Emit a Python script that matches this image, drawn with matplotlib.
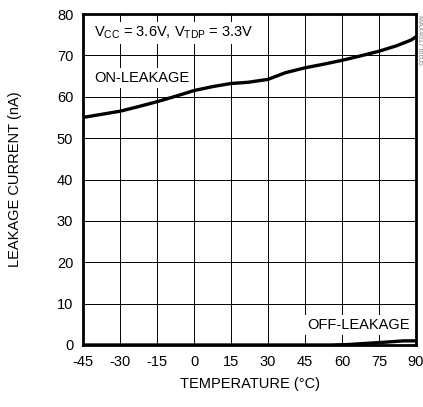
import matplotlib
matplotlib.use("Agg")
import matplotlib.pyplot as plt

plt.rcParams["font.family"] = ["Liberation Sans", "DejaVu Sans"]
plt.rcParams["axes.unicode_minus"] = False

temp_on = [-45, -37, -30, -22, -15, -7, 0, 8, 15, 22, 30, 37, 45, 52, 60, 67, 75, 82, 88, 90]
on_leak = [55.0, 55.8, 56.5, 57.7, 58.8, 60.2, 61.5, 62.5, 63.2, 63.5, 64.2, 65.8, 67.0, 67.8, 68.8, 69.8, 71.0, 72.3, 73.7, 74.5]

temp_off = [-45, 0, 55, 62, 70, 78, 85, 90]
off_leak = [0.0, 0.0, 0.0, 0.1, 0.4, 0.7, 1.0, 1.0]

x_ticks = [-45, -30, -15, 0, 15, 30, 45, 60, 75, 90]
y_ticks = [0, 10, 20, 30, 40, 50, 60, 70, 80]

fig = plt.figure(figsize=(4.23, 4.07), dpi=100)
ax = fig.add_axes([83 / 423, 62 / 407, 333 / 423, 331 / 407])

ax.plot(temp_on, on_leak, color="black", lw=2.4, solid_capstyle="butt", zorder=3)
ax.plot(temp_off, off_leak, color="black", lw=2.4, solid_capstyle="butt", zorder=3)

ax.set_xlim(-45, 90)
ax.set_ylim(0, 80)
ax.set_xticks(x_ticks)
ax.set_yticks(y_ticks)
ax.grid(True, color="black", lw=0.7)
ax.tick_params(length=0, labelsize=10.5, pad=7)
for s in ax.spines.values():
    s.set_linewidth(2)
    s.set_zorder(4)

ax.set_xlabel("TEMPERATURE (°C)", fontsize=10.5, labelpad=6)
ax.set_ylabel("LEAKAGE CURRENT (nA)", fontsize=10.5, labelpad=25)

ax.text(-40.5, 75.4, r"V$_{\mathregular{CC}}$ = 3.6V, V$_{\mathregular{TDP}}$ = 3.3V", fontsize=10.5,
        va="center", ha="left", zorder=2, bbox=dict(fc="white", ec="none", pad=2))
ax.text(-40.5, 64.5, "ON-LEAKAGE", fontsize=10.5, va="center", ha="left", zorder=2,
        bbox=dict(fc="white", ec="none", pad=2))
ax.text(87.5, 4.8, "OFF-LEAKAGE", fontsize=10.5, va="center", ha="right", zorder=2,
        bbox=dict(fc="white", ec="none", pad=2))

fig.text(419 / 423, 1 - 40 / 407, "MAX4617 toc05", rotation=270, fontsize=5,
         color="gray", ha="center", va="center")

fig.savefig("out.png", dpi=100)
